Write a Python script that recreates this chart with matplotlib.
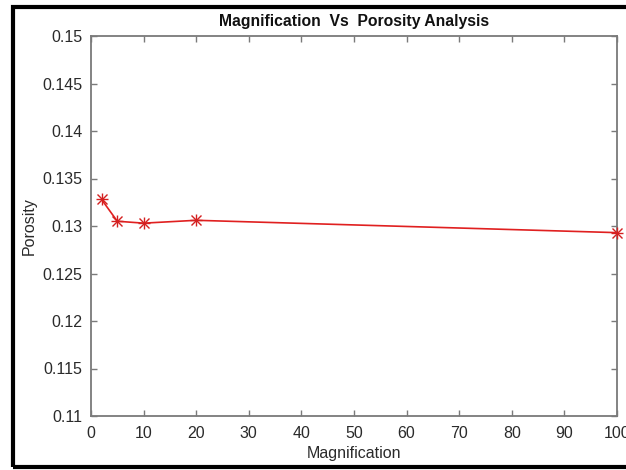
import numpy as np
import matplotlib.pyplot as plt
from matplotlib.patches import Rectangle

plt.rcParams['font.family'] = ['Liberation Sans', 'DejaVu Sans']

# Data
magnification = [2, 5, 10, 20, 100]
porosity = [0.1328, 0.1305, 0.1303, 0.1306, 0.1293]

x_ticks = list(range(0, 101, 10))
y_ticks = [0.11, 0.115, 0.12, 0.125, 0.13, 0.135, 0.14, 0.145, 0.15]
y_labels = ['0.11', '0.115', '0.12', '0.125', '0.13', '0.135', '0.14', '0.145', '0.15']

fig = plt.figure(figsize=(6.26, 4.70), dpi=100)
ax = fig.add_axes([91/626, 1 - 416/470, (617 - 91)/626, (416 - 36)/470])

ax.plot(magnification, porosity, color='#e02020', linewidth=1.2,
        clip_on=False, zorder=3)
# MATLAB-style '*' marker = plus + cross
ax.plot(magnification, porosity, linestyle='none', marker='+', markersize=9,
        markeredgecolor='#d42020', markeredgewidth=1.0, clip_on=False, zorder=4)
ax.plot(magnification, porosity, linestyle='none', marker='x', markersize=6.5,
        markeredgecolor='#d42020', markeredgewidth=1.0, clip_on=False, zorder=4)

ax.set_xlim(0, 100)
ax.set_ylim(0.11, 0.15)
ax.set_xticks(x_ticks)
ax.set_yticks(y_ticks)
ax.set_yticklabels(y_labels)

gray = '#7a7a7a'
for s in ax.spines.values():
    s.set_color(gray)
    s.set_linewidth(1.3)
ax.tick_params(direction='in', length=4, width=1, colors=gray,
               labelcolor='#2a2a2a', labelsize=11.5, top=True, right=True)
ax.tick_params(axis='x', pad=7)
ax.tick_params(axis='y', pad=6)

ax.set_xlabel('Magnification', fontsize=11.5, color='#2a2a2a', labelpad=4)
ax.set_ylabel('Porosity', fontsize=11.5, color='#2a2a2a', labelpad=4)
ax.set_title('Magnification  Vs  Porosity Analysis', fontsize=11.3,
             fontweight='bold', color='#111111', pad=7)

# black frame around the picture (right edge runs off the image)
fig.patches.append(Rectangle((13/626, 1 - 467/470), 1.0, (467 - 7)/470,
                             transform=fig.transFigure, fill=False,
                             edgecolor='black', linewidth=3, zorder=10))

fig.savefig('out.png', dpi=100)
